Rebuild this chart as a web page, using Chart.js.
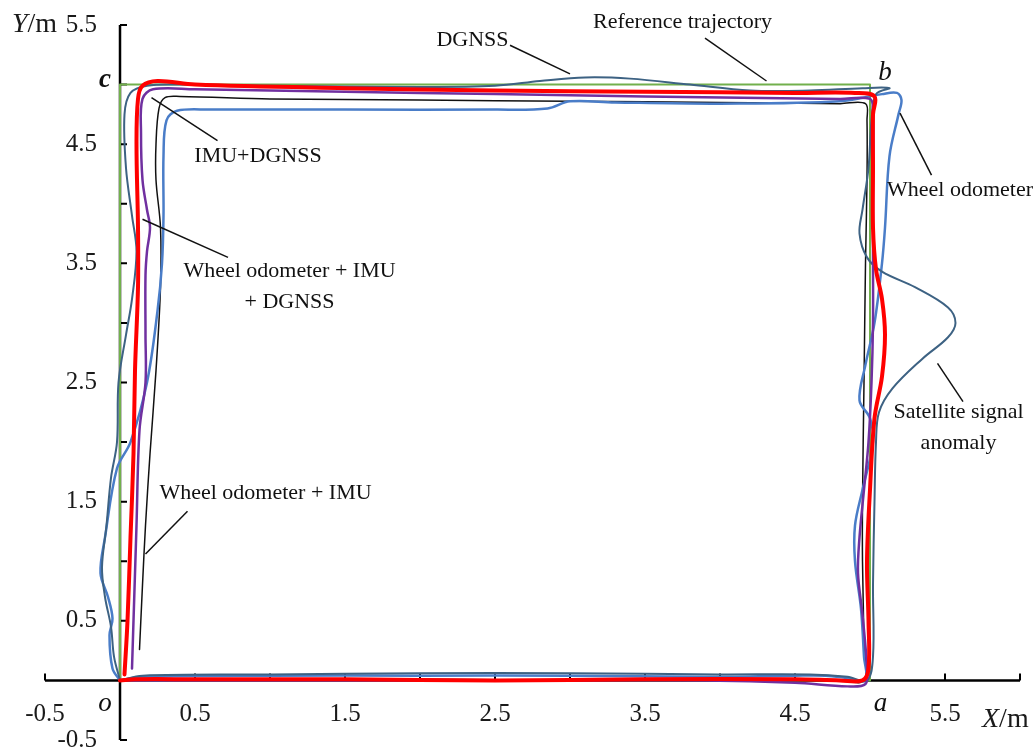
<!DOCTYPE html>
<html>
<head>
<meta charset="utf-8">
<script src="https://cdn.jsdelivr.net/npm/chart.js@4.4.1/dist/chart.umd.min.js"></script>
<style>
  html, body { margin: 0; padding: 0; background: #fff; }
  #wrap { width: 1036px; height: 749px; }
</style>
</head>
<body>
<div id="wrap"><canvas id="track"></canvas></div>
<script>
// trajectories in metres (o -> a -> b -> c -> back down)
const refX = [0, 5, 5, 0, 0];
const refY = [0, 0, 5, 5, 0];

const dgnssX = [0, 0.15, 1, 2, 3, 4, 4.6, 4.85, 4.98, 5.02, 5.02, 5.03, 5.04, 5.06, 5.15, 5.35, 5.52, 5.57, 5.52, 5.3, 5.08, 4.98, 4.93, 4.95, 4.99, 5.01, 5.04, 5.13, 4.95, 4.6, 4.2, 3.8, 3.4, 3.1, 2.8, 2.5, 2.0, 1.0, 0.4, 0.18, 0.07, 0.03, 0.04, 0.08, 0.11, 0.08, 0.04, -0.01, -0.02, -0.06, -0.09, -0.12, -0.1, -0.06, -0.04, 0];
const dgnssY = [0, 0.04, 0.05, 0.06, 0.06, 0.05, 0.05, 0.03, 0.0, 0.2, 0.8, 1.5, 2.0, 2.25, 2.45, 2.7, 2.88, 3.0, 3.13, 3.3, 3.43, 3.55, 3.75, 3.95, 4.3, 4.7, 4.92, 4.97, 4.97, 4.95, 4.95, 5.0, 5.05, 5.06, 5.03, 4.99, 4.98, 4.99, 5.0, 4.99, 4.93, 4.75, 4.3, 3.9, 3.6, 3.2, 2.9, 2.5, 2.0, 1.7, 1.3, 0.95, 0.7, 0.45, 0.2, 0];

const wheelX = [0, 0.15, 1, 2, 3, 3.9, 4.5, 4.7, 4.85, 4.97, 4.96, 4.94, 4.9, 4.9, 4.95, 5.02, 5.0, 4.93, 4.97, 5.03, 5.08, 5.1, 5.13, 5.19, 5.21, 5.18, 5.08, 4.8, 4.0, 3.3, 3.0, 2.85, 2.5, 1.5, 0.6, 0.38, 0.31, 0.29, 0.29, 0.28, 0.25, 0.18, 0.07, -0.02, -0.1, -0.13, -0.08, -0.05, -0.07, -0.05, 0];
const wheelY = [0, 0.03, 0.04, 0.04, 0.04, 0.03, 0.04, 0.04, 0.02, 0.0, 0.2, 0.6, 1.0, 1.3, 1.6, 2.0, 2.2, 2.35, 2.65, 3.0, 3.5, 3.8, 4.4, 4.75, 4.87, 4.93, 4.92, 4.86, 4.84, 4.85, 4.86, 4.8, 4.79, 4.79, 4.79, 4.78, 4.7, 4.4, 3.9, 3.5, 3.1, 2.5, 2.0, 1.78, 1.2, 0.9, 0.7, 0.52, 0.38, 0.1, 0];

const wheelImuX = [0, 0.1, 1, 2, 3, 4, 4.8, 4.96, 4.96, 4.95, 4.95, 4.96, 4.97, 4.98, 4.98, 4.97, 4.8, 4, 3, 2, 1, 0.4, 0.3, 0.26, 0.24, 0.24, 0.27, 0.27, 0.24, 0.2, 0.17, 0.15, 0.13];
const wheelImuY = [0, 0.01, 0.01, 0.01, 0.0, 0.0, 0.0, 0.0, 0.3, 1.0, 1.5, 2.5, 3.5, 4.2, 4.7, 4.84, 4.84, 4.85, 4.86, 4.87, 4.88, 4.9, 4.89, 4.8, 4.5, 4.2, 3.8, 3.3, 2.6, 1.9, 1.3, 0.8, 0.26];

const imuDgnssX = [0, 0.1, 1, 2, 3, 3.9, 4.5, 4.85, 4.97, 4.98, 4.95, 4.92, 4.93, 4.96, 4.99, 5.01, 5.02, 5.02, 5.02, 5.02, 5.0, 4.8, 3.5, 2.5, 1.5, 0.5, 0.22, 0.15, 0.14, 0.15, 0.18, 0.2, 0.18, 0.17, 0.17, 0.17, 0.13, 0.11, 0.09, 0.08];
const imuDgnssY = [0, 0.0, 0.0, 0.0, 0.0, 0.0, -0.02, -0.05, -0.03, 0.1, 0.55, 0.9, 1.2, 1.6, 2.0, 2.5, 3.0, 3.5, 4.2, 4.78, 4.88, 4.88, 4.9, 4.92, 4.94, 4.96, 4.96, 4.88, 4.6, 4.2, 3.95, 3.8, 3.6, 3.4, 2.9, 2.5, 2.1, 1.3, 0.5, 0.1];

const fusedX = [0, 0.1, 0.5, 1.5, 2.5, 3.5, 4.5, 4.8, 4.95, 4.99, 4.99, 4.98, 5.0, 5.03, 5.08, 5.1, 5.08, 5.04, 5.02, 5.02, 5.02, 5.03, 4.9, 4.5, 3.5, 2.5, 1.5, 0.5, 0.25, 0.15, 0.12, 0.11, 0.12, 0.12, 0.1, 0.09, 0.07, 0.05, 0.03];
const fusedY = [0, 0.01, 0.01, 0.01, 0.0, 0.01, 0.01, 0.0, 0.0, 0.1, 0.5, 1.0, 1.6, 2.2, 2.55, 2.9, 3.2, 3.45, 3.8, 4.3, 4.75, 4.9, 4.93, 4.93, 4.94, 4.95, 4.97, 5.0, 5.03, 4.99, 4.88, 4.5, 3.8, 3.3, 2.6, 1.9, 1.2, 0.5, 0.05];

// axes
const xTickMarks = [-0.5, 0, 0.5, 1, 1.5, 2, 2.5, 3, 3.5, 4, 4.5, 5, 5.5, 6];
const xTickLabels = [-0.5, 0.5, 1.5, 2.5, 3.5, 4.5, 5.5];
const yTickMarks = [-0.5, 0, 0.5, 1, 1.5, 2, 2.5, 3, 3.5, 4, 4.5, 5, 5.5];
const yTickLabels = [-0.5, 0.5, 1.5, 2.5, 3.5, 4.5, 5.5];

// callouts: text anchor and leader line, in metres
const callouts = [
    { lines: ['Reference trajectory'], at: [3.75, 5.52], from: [3.9, 5.39], to: [4.31, 5.03] },
    { lines: ['DGNSS'], at: [2.35, 5.37], from: [2.6, 5.33], to: [3.0, 5.09] },
    { lines: ['IMU+DGNSS'], at: [0.92, 4.4], from: [0.21, 4.89], to: [0.65, 4.53] },
    { lines: ['Wheel odometer + IMU', '+ DGNSS'], at: [1.13, 3.43], from: [0.15, 3.87], to: [0.72, 3.55] },
    { lines: ['Wheel odometer + IMU'], at: [0.97, 1.57], from: [0.17, 1.06], to: [0.45, 1.42] },
    { lines: ['Wheel odometer'], at: [5.6, 4.11], from: [5.2, 4.76], to: [5.41, 4.24] },
    { lines: ['Satellite signal', 'anomaly'], at: [5.59, 2.25], from: [5.45, 2.66], to: [5.62, 2.34] },
];
const cornerLabels = [
    { text: 'o', at: [-0.1, -0.2], font: 'italic 27px "Liberation Serif"' },
    { text: 'a', at: [5.07, -0.2], font: 'italic 27px "Liberation Serif"' },
    { text: 'b', at: [5.1, 5.1], font: 'italic 27px "Liberation Serif"' },
    { text: 'c', at: [-0.1, 5.04], font: 'italic bold 27px "Liberation Serif"' },
];

const toPoints = (xs, ys) => xs.map((v, i) => ({ x: v, y: ys[i] }));

function trackSet(label, xs, ys, color, width, tension) {
    return {
        label: label,
        data: toPoints(xs, ys),
        showLine: true,
        borderColor: color,
        borderWidth: width,
        pointRadius: 0,
        tension: tension,
        borderJoinStyle: 'round',
        borderCapStyle: 'round',
    };
}

const fmt = v => v.toFixed(1);

//! axes through the origin with inward ticks
const originAxes = {
    id: 'originAxes',
    beforeDatasetsDraw(chart) {
        const { ctx, scales: { x, y } } = chart;
        const x0 = x.getPixelForValue(0);
        const y0 = y.getPixelForValue(0);
        ctx.save();
        ctx.strokeStyle = '#000';
        ctx.lineWidth = 2.5;
        ctx.beginPath();
        ctx.moveTo(x.getPixelForValue(x.min), y0);
        ctx.lineTo(x.getPixelForValue(x.max), y0);
        ctx.moveTo(x0, y.getPixelForValue(y.min));
        ctx.lineTo(x0, y.getPixelForValue(y.max));
        ctx.stroke();

        ctx.lineWidth = 2;
        ctx.beginPath();
        xTickMarks.forEach(v => {
            const px = x.getPixelForValue(v);
            ctx.moveTo(px, y0);
            ctx.lineTo(px, y0 - 7);
        });
        yTickMarks.forEach(v => {
            const py = y.getPixelForValue(v);
            ctx.moveTo(x0, py);
            ctx.lineTo(x0 + 7, py);
        });
        ctx.stroke();

        ctx.fillStyle = '#1a1a1a';
        ctx.font = '25px "Liberation Serif"';
        ctx.textBaseline = 'middle';
        ctx.textAlign = 'center';
        xTickLabels.forEach(v => ctx.fillText(fmt(v), x.getPixelForValue(v), y0 + 34));
        ctx.textAlign = 'right';
        yTickLabels.forEach(v => ctx.fillText(fmt(v), x0 - 23, y.getPixelForValue(v)));

        // axis titles
        const title = (name, px, py) => {
            ctx.textAlign = 'left';
            ctx.font = 'italic 28px "Liberation Serif"';
            ctx.fillText(name, px, py);
            const w = ctx.measureText(name).width;
            ctx.font = '28px "Liberation Serif"';
            ctx.fillText('/m', px + w, py);
        };
        title('Y', 12, y.getPixelForValue(5.5));
        title('X', 982, y0 + 39);
        ctx.restore();
    },
    afterDatasetsDraw(chart) {
        const { ctx, scales: { x, y } } = chart;
        const px = p => [x.getPixelForValue(p[0]), y.getPixelForValue(p[1])];
        ctx.save();
        ctx.strokeStyle = '#111';
        ctx.lineWidth = 1.5;
        ctx.fillStyle = '#111';
        ctx.textAlign = 'center';
        ctx.textBaseline = 'middle';
        ctx.font = '22px "Liberation Serif"';
        callouts.forEach(c => {
            const a = px(c.from), b = px(c.to);
            ctx.beginPath();
            ctx.moveTo(a[0], a[1]);
            ctx.lineTo(b[0], b[1]);
            ctx.stroke();
            const t = px(c.at);
            c.lines.forEach((s, i) => ctx.fillText(s, t[0], t[1] + i * 31));
        });
        cornerLabels.forEach(l => {
            const t = px(l.at);
            ctx.font = l.font;
            ctx.fillText(l.text, t[0], t[1]);
        });
        ctx.restore();
    }
};

const track = document.getElementById('track').getContext('2d');

new Chart(track, {
    type: 'scatter',
    data: {
        datasets: [
            trackSet('Wheel odometer + IMU + DGNSS', fusedX, fusedY, '#ff0000', 4, 0.35),
            trackSet('IMU+DGNSS', imuDgnssX, imuDgnssY, '#7030a0', 2.5, 0.35),
            trackSet('DGNSS', dgnssX, dgnssY, '#3d6283', 2, 0.35),
            trackSet('Wheel odometer', wheelX, wheelY, '#4a7dc8', 2.5, 0.35),
            trackSet('Wheel odometer + IMU', wheelImuX, wheelImuY, '#111111', 1.5, 0.35),
            trackSet('Reference trajectory', refX, refY, '#72b04c', 2, 0),
        ]
    },
    options: {
        responsive: true,
        maintainAspectRatio: false,
        animation: false,
        layout: {
            padding: { left: 45, right: 16, top: 25, bottom: 9 }
        },
        scales: {
            x: { type: 'linear', min: -0.5, max: 6, display: false },
            y: { type: 'linear', min: -0.5, max: 5.5, display: false }
        },
        plugins: {
            legend: { display: false },
            tooltip: { enabled: false }
        }
    },
    plugins: [originAxes]
});
</script>
</body>
</html>
